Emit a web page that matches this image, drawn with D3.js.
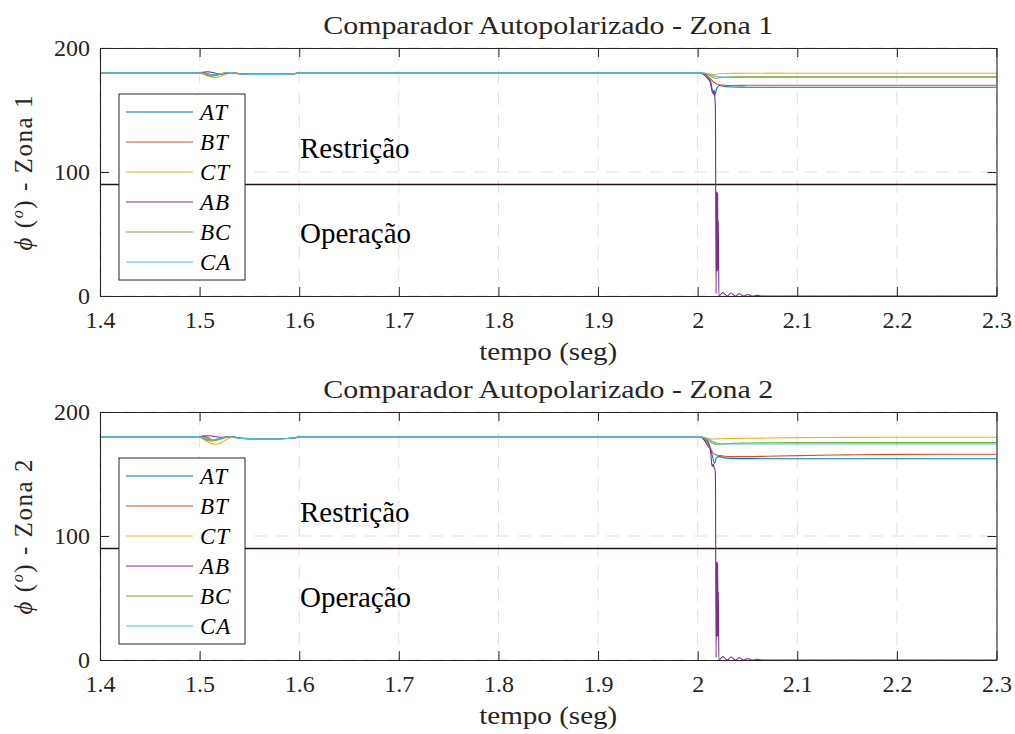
<!DOCTYPE html>
<html>
<head>
<meta charset="utf-8">
<script src="https://cdn.jsdelivr.net/npm/d3@7"></script>
<style>
  body { margin: 0; background: #fff; }
  text { font-family: "Liberation Serif", "DejaVu Serif", "Noto Serif", "Times New Roman", serif !important; fill: #262626; }
</style>
</head>
<body>
<svg id="chart" width="1015" height="734"></svg>
<script>
// ---- data ----
const xTicks = [1.4, 1.5, 1.6, 1.7, 1.8, 1.9, 2.0, 2.1, 2.2, 2.3];
const xTickLabels = ["1.4", "1.5", "1.6", "1.7", "1.8", "1.9", "2", "2.1", "2.2", "2.3"];
const yTicks = [0, 100, 200];
const seriesNames = ["AT", "BT", "CT", "AB", "BC", "CA"];
const seriesColors = ["#0072BD", "#D95319", "#EDB120", "#7E2F8E", "#77AC30", "#4DBEEE"];
const thresholdDeg = 90;
const panelTitles = ["Comparador Autopolarizado - Zona 1", "Comparador Autopolarizado - Zona 2"];
const panelZones = ["Zona 1", "Zona 2"];

// time stamps (s): before the fault, after the fault, and the AB loop detail
const tPre = [1.4, 1.5, 1.503, 1.508, 1.512, 1.517, 1.522, 1.527, 1.532, 1.537, 1.545, 1.56, 1.58, 1.595, 1.6, 2.0];
const tPost = [2.002, 2.006, 2.010, 2.013, 2.015, 2.017, 2.019, 2.022, 2.027, 2.035, 2.05, 2.07, 2.1, 2.15, 2.2, 2.3];
const tAB = [2.002, 2.006, 2.010, 2.0128, 2.0145, 2.0155, 2.0165, 2.0172, 2.0178, 2.0185, 2.0189, 2.0192, 2.0195,
             2.0198, 2.0201, 2.0204, 2.0208, 2.0213, 2.0253, 2.0295, 2.0337, 2.0378, 2.042, 2.046, 2.0503, 2.0545,
             2.06, 2.065, 2.3];

// Zona 1 angles (degrees)
const z1_AT_pre = [180, 180, 179.5, 178.5, 178, 178.5, 179, 179.5, 179.8, 179.5, 179, 178.8, 178.8, 179.2, 180, 180];
const z1_BT_pre = [180, 180, 180.5, 179.5, 178.5, 178, 179, 180, 180.3, 179.8, 179, 178.8, 178.7, 179.2, 180, 180];
const z1_CT_pre = [180, 180, 179, 177.5, 176.5, 176.3, 177.5, 179, 180, 179.6, 179, 178.7, 178.7, 179, 180, 180];
const z1_AB_pre = [180, 180, 180.5, 180.8, 180.5, 179.5, 179.2, 179.8, 180.2, 179.5, 179, 178.8, 178.8, 179.2, 180, 180];
const z1_BC_pre = [180, 180, 179.5, 178, 177.3, 178, 179.2, 180, 180.2, 179.6, 178.9, 178.7, 178.8, 179.2, 180, 180];
const z1_CA_pre = [180, 180, 179.8, 179, 178.5, 178.8, 179.5, 180, 180.2, 179.5, 178.8, 178.6, 178.7, 179.1, 180, 180];

const z1_AT_post = [180, 179.5, 177, 173, 165, 162, 167, 169.8, 169, 168.6, 168.4, 168.3, 168.3, 168.3, 168.3, 168.3];
const z1_BT_post = [180, 179.3, 177, 175, 173.5, 172, 171, 170.4, 170, 169.8, 169.9, 170, 170, 170, 170, 170];
const z1_CT_post = [180, 179.8, 179.2, 178.8, 178.6, 178.8, 179, 179.2, 179.4, 179.5, 179.6, 179.7, 179.6, 179.6, 179.6, 179.6];
const z1_BC_post = [180, 179.6, 178.5, 177.5, 176.5, 175.8, 175.6, 176, 176.4, 176.7, 176.8, 176.8, 176.8, 176.8, 176.8, 176.8];
const z1_CA_post = [180, 179.8, 179.2, 178.5, 178, 177.5, 177, 176.7, 176.5, 176.3, 176.2, 176.2, 176.2, 176.2, 176.2, 176.2];
const z1_AB_post = [180, 178.5, 175.5, 172, 165, 163.5, 166, 161, 150, 2, 84, 20, 84, 20, 83, 22, 60, 0,
                    2.8, 0, 2.4, 0, 1.8, 0, 1.2, 0, 0.5, 0, 0];

// Zona 2 angles (degrees)
const z2_AT_pre = [180, 180, 179.5, 178, 177.5, 178, 179, 179.5, 179.8, 179.3, 178.6, 178.4, 178.4, 179, 180, 180];
const z2_BT_pre = [180, 180, 180.5, 179.5, 178, 177.5, 178.5, 179.8, 180.2, 179.5, 178.7, 178.4, 178.4, 179, 180, 180];
const z2_CT_pre = [180, 180, 178.5, 176, 174.5, 174, 175.5, 177.8, 179.5, 179.2, 178.6, 178.3, 178.4, 179, 180, 180];
const z2_AB_pre = [180, 180, 180.6, 180.8, 180.6, 180, 179.5, 180, 180.3, 179.4, 178.6, 178.4, 178.4, 179, 180, 180];
const z2_BC_pre = [180, 180, 179, 177, 176.6, 177.3, 178.5, 179.6, 180, 179.3, 178.5, 178.3, 178.4, 179, 180, 180];
const z2_CA_pre = [180, 180, 179.6, 178.5, 177.8, 178, 179, 179.8, 180.1, 179.3, 178.5, 178.3, 178.4, 179, 180, 180];

const z2_AT_post = [180, 179.3, 176.5, 170, 164, 158.6, 163.5, 164, 163, 162.6, 162.4, 162.3, 162.3, 162.3, 162.3, 162.3];
const z2_BT_post = [180, 178.8, 175, 170.5, 167.5, 166, 165.3, 164.8, 164.3, 164, 164, 164.3, 164.8, 165.4, 165.8, 165.9];
const z2_CT_post = [180, 179.5, 178.8, 178.3, 178.2, 178.2, 178.3, 178.4, 178.5, 178.6, 178.8, 179, 179.3, 179.5, 179.6, 179.6];
const z2_BC_post = [180, 179.3, 177.5, 176, 175, 174.3, 174, 174, 174.3, 174.7, 175, 175.2, 175.3, 175.3, 175.3, 175.3];
const z2_CA_post = [180, 179.6, 178.5, 177.2, 176.3, 175.5, 175, 174.6, 174.4, 174.3, 174.2, 174.2, 174.2, 174.2, 174.2, 174.2];
const z2_AB_post = [180, 178, 173, 169.4, 156, 158, 155, 154, 150, 2, 79, 19, 79, 19, 78, 20, 55, 0,
                    2.8, 0, 2.4, 0, 1.8, 0, 1.2, 0, 0.5, 0, 0];

// ---- assemble series ----
function join(pre, tp, post) {
  return tPre.map((t, i) => [t, pre[i]]).concat(tp.map((t, i) => [t, post[i]]));
}
const panels = [
  {
    title: panelTitles[0], zone: panelZones[0],
    series: [
      join(z1_AT_pre, tPost, z1_AT_post), join(z1_BT_pre, tPost, z1_BT_post), join(z1_CT_pre, tPost, z1_CT_post),
      join(z1_AB_pre, tAB, z1_AB_post), join(z1_BC_pre, tPost, z1_BC_post), join(z1_CA_pre, tPost, z1_CA_post)
    ]
  },
  {
    title: panelTitles[1], zone: panelZones[1],
    series: [
      join(z2_AT_pre, tPost, z2_AT_post), join(z2_BT_pre, tPost, z2_BT_post), join(z2_CT_pre, tPost, z2_CT_post),
      join(z2_AB_pre, tAB, z2_AB_post), join(z2_BC_pre, tPost, z2_BC_post), join(z2_CA_pre, tPost, z2_CA_post)
    ]
  }
];

// ---- drawing ----
const svg = d3.select("#chart");
svg.append("rect").attr("width", 1015).attr("height", 734).attr("fill", "#fff");

const left = 100, right = 996.5, plotH = 248;
const panelTops = [48, 412];
const axisColor = "#262626";
const serif = "'Liberation Serif', 'DejaVu Serif', 'Noto Serif', serif";

function drawPanel(p, top) {
  const g = svg.append("g").attr("font-family", serif);
  const x = d3.scaleLinear().domain([1.4, 2.3]).range([left, right]);
  const y = d3.scaleLinear().domain([0, 200]).range([top + plotH, top]);

  // grid
  const grid = g.append("g").attr("stroke", "#dfdfdf").attr("stroke-width", 1).attr("stroke-dasharray", "13,9");
  grid.selectAll("line.vx").data(xTicks).join("line")
    .attr("x1", d => x(d)).attr("x2", d => x(d)).attr("y1", top).attr("y2", top + plotH);
  grid.selectAll("line.hy").data(yTicks).join("line")
    .attr("x1", left).attr("x2", right).attr("y1", d => y(d)).attr("y2", d => y(d));

  // operating threshold
  g.append("line").attr("x1", left).attr("x2", right)
    .attr("y1", y(thresholdDeg)).attr("y2", y(thresholdDeg))
    .attr("stroke", "#2b1013").attr("stroke-width", 1.5);

  // region labels
  g.append("text").attr("x", 300).attr("y", y(thresholdDeg) - 26).attr("font-size", 29)
    .style("fill", "#000").text("Restrição");
  g.append("text").attr("x", 300).attr("y", y(thresholdDeg) + 59).attr("font-size", 29)
    .style("fill", "#000").text("Operação");

  // series
  const line = d3.line().x(d => x(d[0])).y(d => y(d[1])).curve(d3.curveMonotoneX);
  g.append("g").selectAll("path").data(p.series).join("path")
    .attr("d", line).attr("fill", "none")
    .attr("stroke", (d, i) => seriesColors[i]).attr("stroke-width", 1.1);

  // axes (ticks pointing inwards on all four sides)
  const axB = g.append("g").attr("transform", `translate(0,${top + plotH})`)
    .call(d3.axisBottom(x).tickValues(xTicks).tickFormat((d, i) => xTickLabels[i])
      .tickSizeInner(-9).tickSizeOuter(0).tickPadding(15));
  const axT = g.append("g").attr("transform", `translate(0,${top})`)
    .call(d3.axisTop(x).tickValues(xTicks).tickFormat("").tickSizeInner(-9).tickSizeOuter(0));
  const axL = g.append("g").attr("transform", `translate(${left},0)`)
    .call(d3.axisLeft(y).tickValues(yTicks).tickFormat(d3.format("d")).tickSizeInner(-9).tickSizeOuter(0).tickPadding(10));
  const axR = g.append("g").attr("transform", `translate(${right},0)`)
    .call(d3.axisRight(y).tickValues(yTicks).tickFormat("").tickSizeInner(-9).tickSizeOuter(0));
  [axB, axT, axL, axR].forEach(a => {
    a.attr("font-family", serif);
    a.select(".domain").attr("stroke", axisColor).attr("stroke-width", 1.1);
    a.selectAll(".tick line").attr("stroke", axisColor).attr("stroke-width", 1);
    a.selectAll("text").attr("font-family", serif).attr("font-size", 24).attr("fill", axisColor);
  });

  // titles
  g.append("text").attr("x", (left + right) / 2).attr("y", top - 14).attr("text-anchor", "middle")
    .attr("font-size", 25).attr("textLength", 450).attr("lengthAdjust", "spacingAndGlyphs").text(p.title);
  g.append("text").attr("x", (left + right) / 2).attr("y", top + plotH + 64).attr("text-anchor", "middle")
    .attr("font-size", 25).attr("textLength", 138).attr("lengthAdjust", "spacingAndGlyphs").text("tempo (seg)");

  const yl = g.append("text").attr("transform", `translate(32,${top + 125}) rotate(-90)`)
    .attr("text-anchor", "middle").attr("font-size", 25)
    .attr("textLength", 155).attr("lengthAdjust", "spacing");
  yl.append("tspan").attr("font-style", "italic").text("ϕ");
  yl.append("tspan").text(" (");
  yl.append("tspan").attr("font-style", "italic").attr("font-size", 16).attr("dy", -9).text("o");
  yl.append("tspan").attr("dy", 9).text(") - " + p.zone);

  // legend
  const lgTop = top + 46, lgLeft = 119, lgW = 126, lgH = 186;
  const lg = g.append("g");
  lg.append("rect").attr("x", lgLeft).attr("y", lgTop).attr("width", lgW).attr("height", lgH)
    .attr("fill", "#fff").attr("stroke", axisColor).attr("stroke-width", 1);
  const rows = lg.selectAll("g.row").data(seriesNames).join("g")
    .attr("transform", (d, i) => `translate(0,${lgTop + 18 + i * 30})`);
  rows.append("line").attr("x1", lgLeft + 7).attr("x2", lgLeft + 74).attr("y1", 0).attr("y2", 0)
    .attr("stroke", (d, i) => seriesColors[i]).attr("stroke-width", 1.1);
  rows.append("text").attr("x", lgLeft + 81).attr("y", 8).attr("font-size", 23).attr("font-style", "italic")
    .style("fill", "#000").attr("letter-spacing", 1).text(d => d);
}

panels.forEach((p, i) => drawPanel(p, panelTops[i]));
</script>
</body>
</html>
